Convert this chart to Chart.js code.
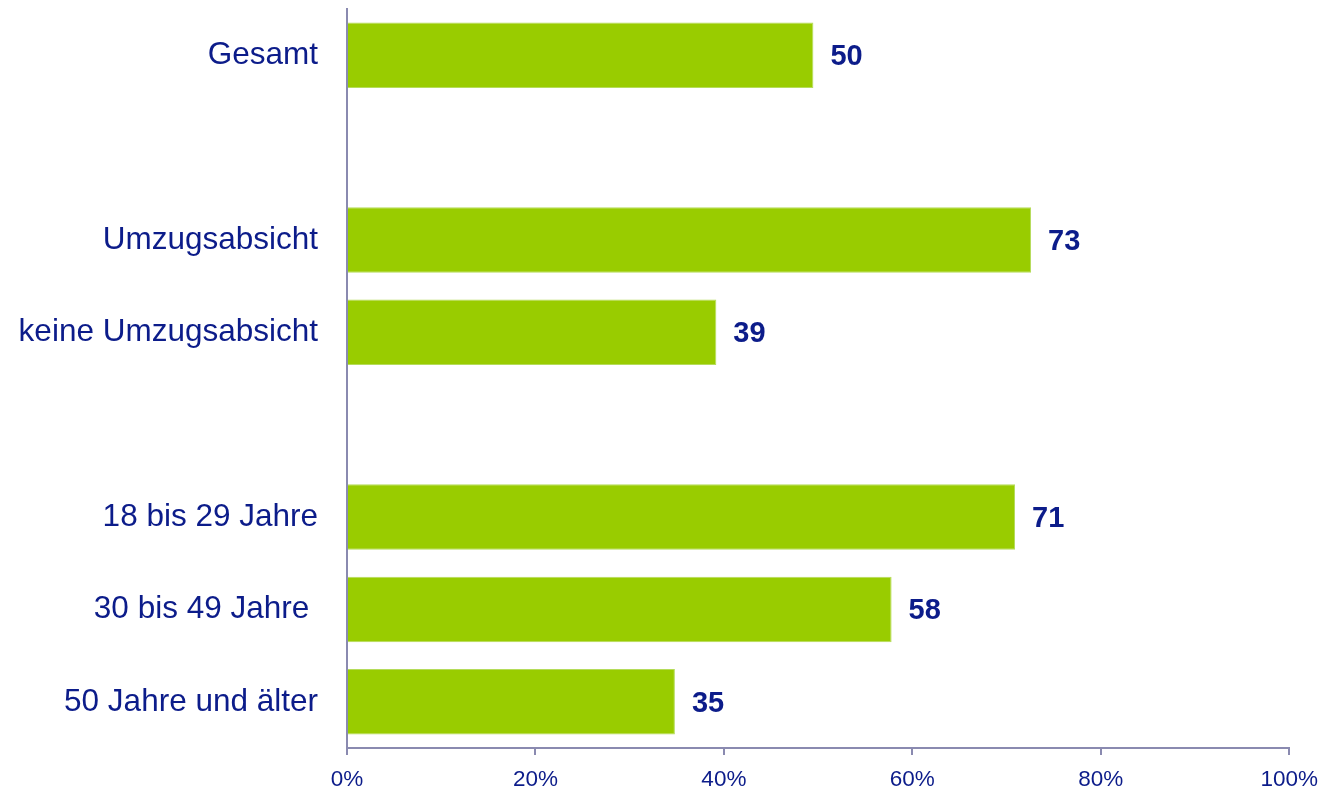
<!DOCTYPE html>
<html lang="de">
<head>
<meta charset="UTF-8">
<title>Umzug</title>
<script src="https://cdn.jsdelivr.net/npm/chart.js"></script>
<style>
  * { margin: 0; padding: 0; box-sizing: border-box; }
  body { background: #fff; }
  .chart-box { width: 1329px; height: 790px; position: relative; }
</style>
</head>
<body>
<div class="chart-box"><canvas id="chart"></canvas></div>
<script>
// categories (empty strings are the gaps between groups)
const categories = ['Gesamt', '', 'Umzugsabsicht', 'keine Umzugsabsicht', '', '18 bis 29 Jahre', '30 bis 49 Jahre ', '50 Jahre und älter'];
const shares = [49.5, null, 72.6, 39.2, null, 70.9, 57.8, 34.8];
const shareLabels = ['50', '', '73', '39', '', '71', '58', '35'];
const xTicks = [0, 20, 40, 60, 80, 100];

const navy = '#0c1c8a';
const axisColor = '#8a8ab0';
const fontFamily = '"Liberation Sans", Arial, sans-serif';

// value labels right of each bar
const valueLabels = {
  id: 'valueLabels',
  afterDatasetsDraw(chart) {
    const ctx = chart.ctx;
    const meta = chart.getDatasetMeta(0);
    ctx.save();
    ctx.font = 'bold 29px ' + fontFamily;
    ctx.fillStyle = navy;
    ctx.textAlign = 'left';
    ctx.textBaseline = 'middle';
    meta.data.forEach((bar, i) => {
      if (shares[i] == null) return;
      ctx.fillText(shareLabels[i], bar.x + 17, bar.y + 2);
    });
    ctx.restore();
  }
};

new Chart(document.getElementById('chart'), {
  type: 'bar',
  data: {
    labels: categories,
    datasets: [{
      data: shares,
      backgroundColor: '#99cc00',
      borderColor: '#b5dc5a',
      borderWidth: 1,
      borderSkipped: 'start',
      categoryPercentage: 1,
      barPercentage: 0.71
    }]
  },
  options: {
    indexAxis: 'y',
    responsive: true,
    maintainAspectRatio: false,
    animation: false,
    layout: { padding: { top: 9, right: 39, bottom: 0, left: 0 } },
    plugins: { legend: { display: false }, tooltip: { enabled: false } },
    scales: {
      x: {
        min: 0,
        max: 100,
        afterBuildTicks(axis) { axis.ticks = xTicks.map(v => ({ value: v })); },
        grid: { display: true, drawOnChartArea: false, drawTicks: true, tickLength: 7, color: axisColor, lineWidth: 2 },
        border: { display: true, color: axisColor, width: 2 },
        ticks: {
          color: navy,
          font: { family: fontFamily, size: 22.5 },
          padding: 11,
          callback: v => v + '%'
        },
        afterFit(axis) { axis.height = 42; }
      },
      y: {
        grid: { display: false },
        border: { display: true, color: axisColor, width: 2 },
        ticks: {
          color: navy,
          font: { family: fontFamily, size: 31.5 },
          padding: 21,
          autoSkip: false
        },
        afterFit(axis) {
          axis.width = 347;
          axis.paddingTop = 0;
          axis.paddingBottom = 0;
        }
      }
    }
  },
  plugins: [valueLabels]
});
</script>
</body>
</html>
